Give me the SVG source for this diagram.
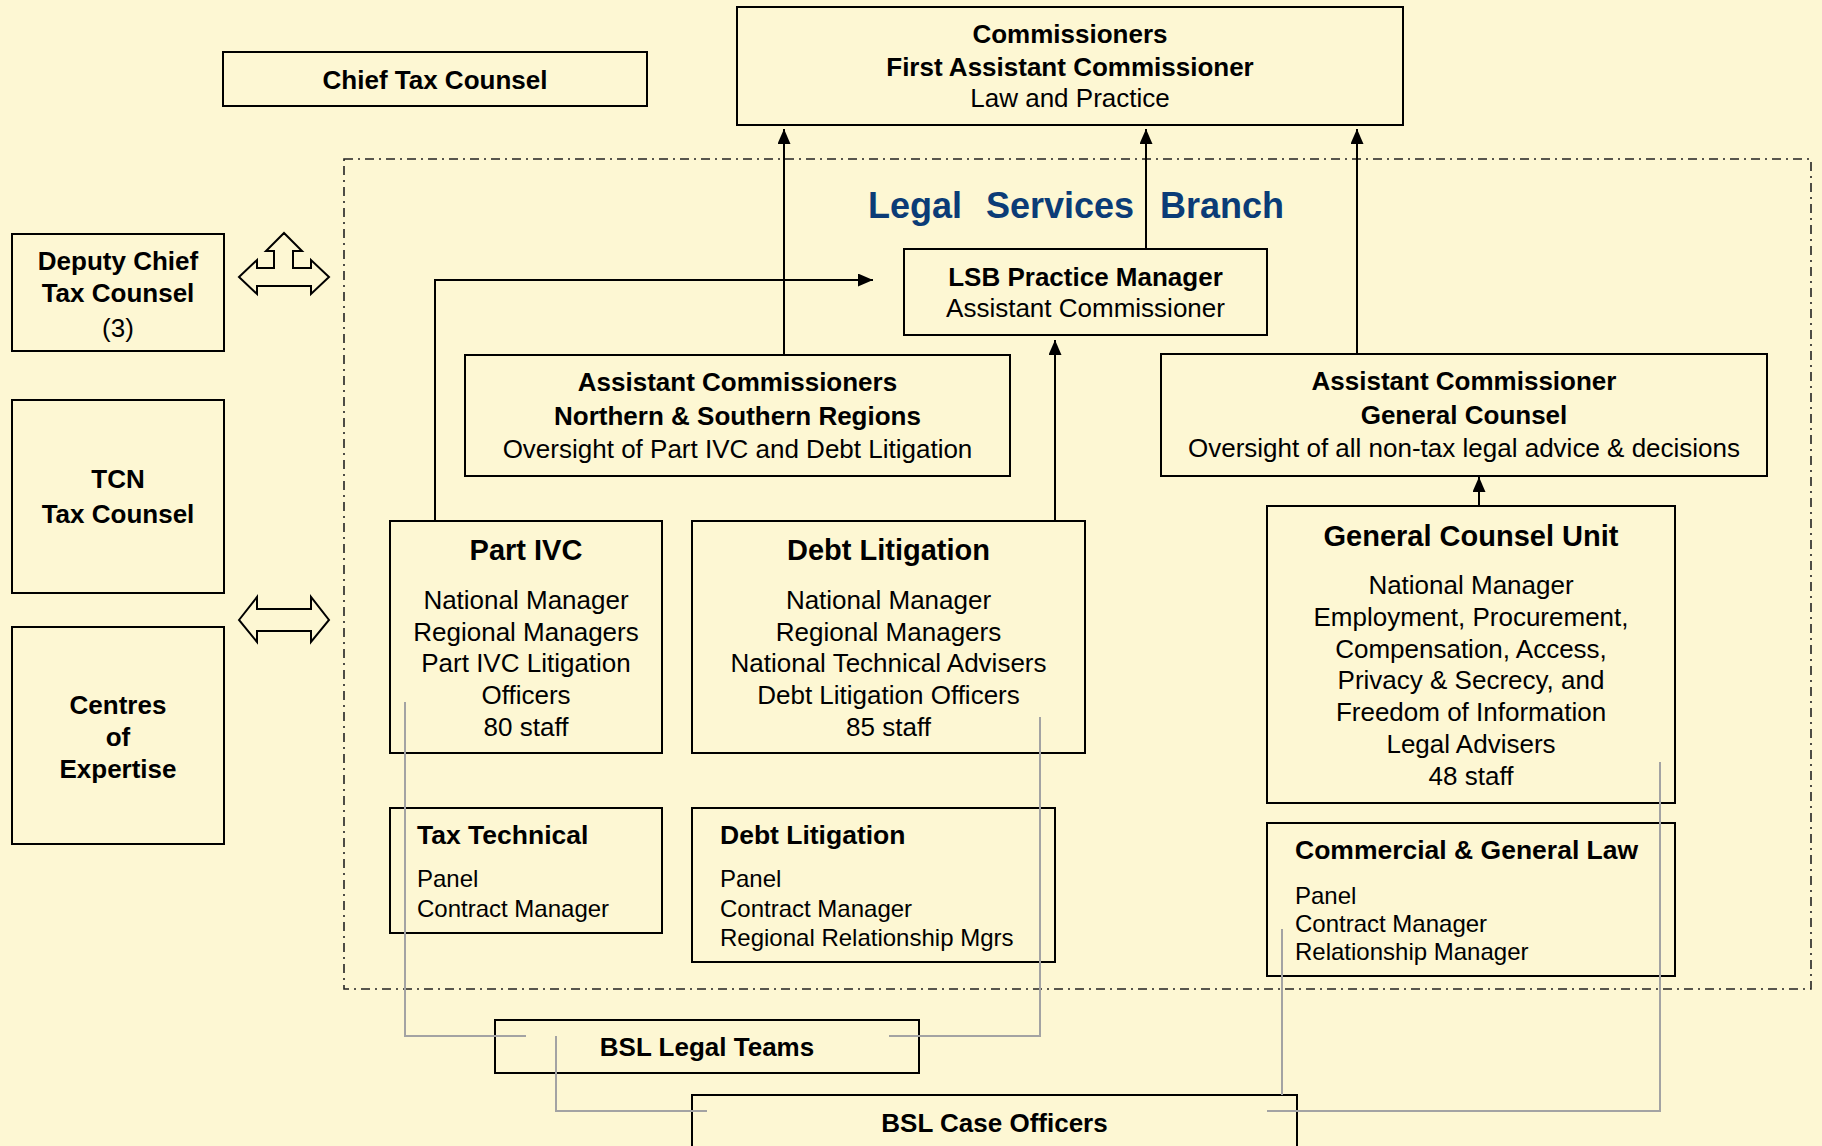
<svg xmlns="http://www.w3.org/2000/svg" width="1822" height="1146" viewBox="0 0 1822 1146">
<defs>
<style>
text{font-family:"Liberation Sans",Arial,sans-serif;fill:#000;}
.b{font-weight:bold;}
.c{text-anchor:middle;}
.f26{font-size:26px;}
.f29{font-size:29px;}
.f265{font-size:26.5px;}
.f24{font-size:24px;}
.box{fill:none;stroke:#000;stroke-width:2;}
.conn{fill:none;stroke:#000;stroke-width:2;}
.grey{fill:none;stroke:#A3A3A3;stroke-width:2;}
.frame{fill:none;stroke:#222;stroke-width:1.6;stroke-dasharray:9 5 2 5;}
.bigarrow{fill:none;stroke:#000;stroke-width:2;stroke-linejoin:miter;}
.title{font-size:36px;font-weight:bold;fill:#0B3C77;}
</style>
<marker id="ah" markerUnits="userSpaceOnUse" markerWidth="16" markerHeight="14" refX="15" refY="6.5" orient="auto">
<path d="M0,0 L15,6.5 L0,13 z" fill="#000"/>
</marker>
</defs>
<rect x="0" y="0" width="1822" height="1146" fill="#FDF7D3"/>

<rect class="frame" x="344" y="159" width="1467" height="830"/>
<g id="lsb-title">
<text class="title" x="868" y="218">Legal</text>
<text class="title" x="986" y="218">Services</text>
<text class="title" x="1160" y="218">Branch</text>
</g>

<g id="commissioners">
<rect class="box" x="737" y="7" width="666" height="118"/>
<text class="b c f26" x="1070" y="43">Commissioners</text>
<text class="b c f26" x="1070" y="76">First Assistant Commissioner</text>
<text class="c f26" x="1070" y="107">Law and Practice</text>
</g>

<g id="chief-tax-counsel">
<rect class="box" x="223" y="52" width="424" height="54"/>
<text class="b c f26" x="435" y="89">Chief Tax Counsel</text>
</g>

<g id="deputy-chief">
<rect class="box" x="12" y="234" width="212" height="117"/>
<text class="b c f26" x="118" y="270">Deputy Chief</text>
<text class="b c f26" x="118" y="302">Tax Counsel</text>
<text class="c f26" x="118" y="337">(3)</text>
</g>

<g id="tcn">
<rect class="box" x="12" y="400" width="212" height="193"/>
<text class="b c f26" x="118" y="488">TCN</text>
<text class="b c f26" x="118" y="523">Tax Counsel</text>
</g>

<g id="centres">
<rect class="box" x="12" y="627" width="212" height="217"/>
<text class="b c f26" x="118" y="714">Centres</text>
<text class="b c f26" x="118" y="746">of</text>
<text class="b c f26" x="118" y="778">Expertise</text>
</g>

<g id="three-way-arrow">
<polygon class="bigarrow" points="239,277 257,260 257,268 274,268 274,251 266,251 284,233 302,251 293,251 293,268 311,268 311,260 329,277 311,294 311,286 257,286 257,294"/>
</g>
<g id="two-way-arrow">
<polygon class="bigarrow" points="239,620 257,597 257,609 311,609 311,597 329,620 311,642 311,631 257,631 257,642"/>
</g>

<g id="lsb-practice-manager">
<rect class="box" x="904" y="249" width="363" height="86"/>
<text class="b c f26" x="1085.5" y="286">LSB Practice Manager</text>
<text class="c f26" x="1085.5" y="317">Assistant Commissioner</text>
</g>

<g id="ac-north-south">
<rect class="box" x="465" y="355" width="545" height="121"/>
<text class="b c f26" x="737.5" y="391">Assistant Commissioners</text>
<text class="b c f26" x="737.5" y="425">Northern &amp; Southern Regions</text>
<text class="c f26" x="737.5" y="458">Oversight of Part IVC and Debt Litigation</text>
</g>

<g id="ac-general-counsel">
<rect class="box" x="1161" y="354" width="606" height="122"/>
<text class="b c f26" x="1464" y="390">Assistant Commissioner</text>
<text class="b c f26" x="1464" y="424">General Counsel</text>
<text class="c f26" x="1464" y="457">Oversight of all non-tax legal advice &amp; decisions</text>
</g>

<g id="part-ivc">
<rect class="box" x="390" y="521" width="272" height="232"/>
<text class="b c f29" x="526" y="560">Part IVC</text>
<text class="c f26" x="526" y="609">National Manager</text>
<text class="c f26" x="526" y="641">Regional Managers</text>
<text class="c f26" x="526" y="672">Part IVC Litigation</text>
<text class="c f26" x="526" y="704">Officers</text>
<text class="c f26" x="526" y="736">80 staff</text>
</g>

<g id="debt-litigation">
<rect class="box" x="692" y="521" width="393" height="232"/>
<text class="b c f29" x="888.5" y="560">Debt Litigation</text>
<text class="c f26" x="888.5" y="609">National Manager</text>
<text class="c f26" x="888.5" y="641">Regional Managers</text>
<text class="c f26" x="888.5" y="672">National Technical Advisers</text>
<text class="c f26" x="888.5" y="704">Debt Litigation Officers</text>
<text class="c f26" x="888.5" y="736">85 staff</text>
</g>

<g id="general-counsel-unit">
<rect class="box" x="1267" y="506" width="408" height="297"/>
<text class="b c f29" x="1471" y="546">General Counsel Unit</text>
<text class="c f26" x="1471" y="594">National Manager</text>
<text class="c f26" x="1471" y="626">Employment, Procurement,</text>
<text class="c f26" x="1471" y="658">Compensation, Access,</text>
<text class="c f26" x="1471" y="689">Privacy &amp; Secrecy, and</text>
<text class="c f26" x="1471" y="721">Freedom of Information</text>
<text class="c f26" x="1471" y="753">Legal Advisers</text>
<text class="c f26" x="1471" y="785">48 staff</text>
</g>

<g id="tax-technical">
<rect class="box" x="390" y="808" width="272" height="125"/>
<text class="b f265" x="417" y="844">Tax Technical</text>
<text class="f24" x="417" y="887">Panel</text>
<text class="f24" x="417" y="917">Contract Manager</text>
</g>

<g id="debt-litigation-panel">
<rect class="box" x="692" y="808" width="363" height="154"/>
<text class="b f265" x="720" y="844">Debt Litigation</text>
<text class="f24" x="720" y="887">Panel</text>
<text class="f24" x="720" y="917">Contract Manager</text>
<text class="f24" x="720" y="946">Regional Relationship Mgrs</text>
</g>

<g id="commercial-general-law">
<rect class="box" x="1267" y="823" width="408" height="153"/>
<text class="b f265" x="1295" y="859">Commercial &amp; General Law</text>
<text class="f24" x="1295" y="904">Panel</text>
<text class="f24" x="1295" y="932">Contract Manager</text>
<text class="f24" x="1295" y="960">Relationship Manager</text>
</g>

<g id="bsl-legal-teams">
<rect class="box" x="495" y="1020" width="424" height="53"/>
<text class="b c f26" x="707" y="1056">BSL Legal Teams</text>
</g>

<g id="bsl-case-officers">
<rect class="box" x="692" y="1095" width="605" height="80"/>
<text class="b c f26" x="994.5" y="1132">BSL Case Officers</text>
</g>

<g id="connectors">
<path class="conn" d="M784,355 V129" marker-end="url(#ah)"/>
<path class="conn" d="M1146,249 V129" marker-end="url(#ah)"/>
<path class="conn" d="M1357,354 V129" marker-end="url(#ah)"/>
<path class="conn" d="M435,521 V280 H873" marker-end="url(#ah)"/>
<path class="conn" d="M1055,521 V340" marker-end="url(#ah)"/>
<path class="conn" d="M1479,506 V477" marker-end="url(#ah)"/>
<path class="grey" d="M405,702 V1036 H526"/>
<path class="grey" d="M1040,717 V1036 H889"/>
<path class="grey" d="M556,1036 V1111 H707"/>
<path class="grey" d="M1660,762 V1111 H1267"/>
<path class="grey" d="M1282,929 V1095"/>
</g>
</svg>
